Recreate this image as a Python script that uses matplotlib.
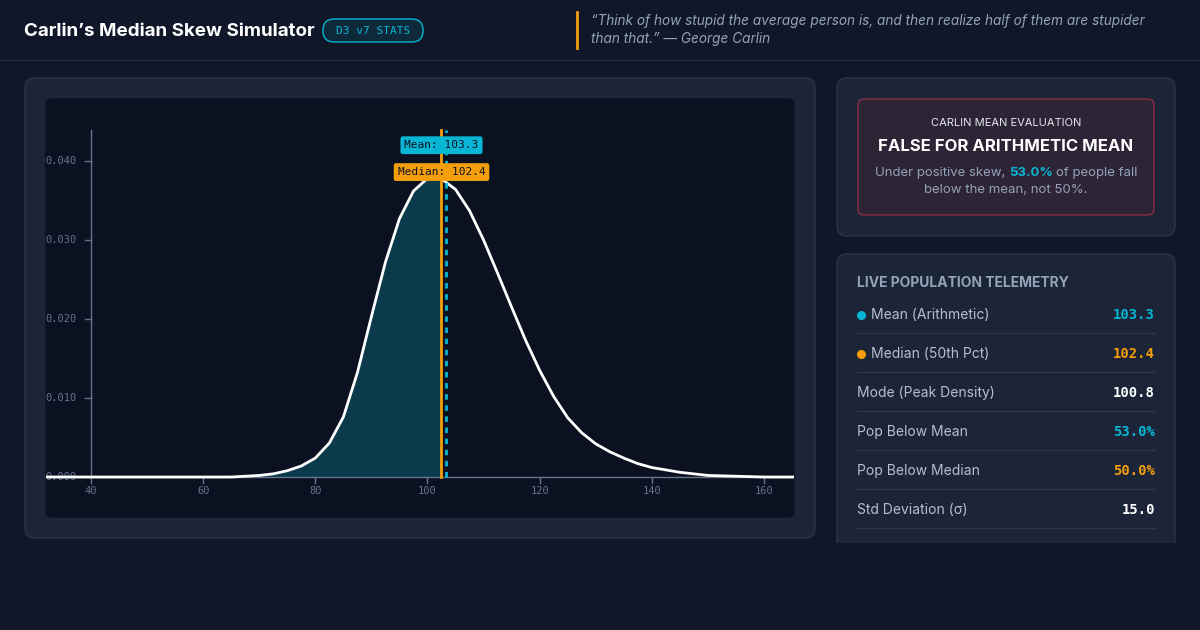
import matplotlib
matplotlib.use("Agg")
import matplotlib.pyplot as plt
from matplotlib.patches import FancyBboxPatch
import numpy as np

# ── data ──────────────────────────────────────────────────────────────────
iq_x = [32, 40, 50, 60, 65, 70, 72.5, 75, 77.5, 80, 82.5, 85, 87.5, 90, 92.5, 95, 97.5,
        100, 101, 102.4, 105, 107.5, 110, 112.5, 115, 117.5, 120, 122.5, 125, 127.5,
        130, 132.5, 135, 137.5, 140, 145, 150, 155, 160, 165.4]
density = [0.0, 0.0, 0.0, 0.0, 0.0, 0.0002, 0.0004, 0.0008, 0.0014, 0.0024, 0.0043,
           0.0076, 0.0132, 0.0203, 0.0272, 0.0327, 0.0362, 0.0378, 0.0380, 0.0378,
           0.0364, 0.0337, 0.0300, 0.0258, 0.0215, 0.0173, 0.0135, 0.0102, 0.0075,
           0.0056, 0.0042, 0.0032, 0.0024, 0.0017, 0.0012, 0.0006, 0.0002, 0.0001,
           0.0, 0.0]
MEAN, MEDIAN, MODE = 103.3, 102.4, 100.8
x_ticks = [40, 60, 80, 100, 120, 140, 160]
y_ticks = [0.0, 0.01, 0.02, 0.03, 0.04]
stat_labels = ["Mean (Arithmetic)", "Median (50th Pct)", "Mode (Peak Density)",
               "Pop Below Mean", "Pop Below Median", "Std Deviation (σ)"]
stat_values = ["103.3", "102.4", "100.8", "53.0%", "50.0%", "15.0"]

BG = "#0f1729"
CARD = "#1b2537"
PLOT = "#0b1120"
CYAN = "#06b6d4"
ORANGE = "#f59e0b"
GRAY = "#94a3b8"
MONO = "DejaVu Sans Mono"
SANS = "Inter"

W, H = 1200, 630
fig = plt.figure(figsize=(12, 6.3), dpi=100, facecolor=BG)

def fy(py):
    return 1 - py / H

def box(x0, y0, x1, y1, fc, ec, r=10, lw=1):
    p = FancyBboxPatch((x0 / W, fy(y1)), (x1 - x0) / W, (y1 - y0) / H,
                       boxstyle=f"round,pad=0,rounding_size={r / W}",
                       transform=fig.transFigure, fc=fc, ec=ec, lw=lw,
                       mutation_aspect=W / H, zorder=0)
    fig.add_artist(p)

def txt(px, py, s, **kw):
    fig.text(px / W, fy(py), s, **kw)

# header
txt(24, 31, "Carlin’s Median Skew Simulator", color="white", fontsize=13.5,
    fontweight="bold", family=SANS, va="center")
box(323, 19, 423, 42, "#0e2a3a", CYAN, r=11)
txt(373, 31, "D3 v7 STATS", color=CYAN, fontsize=8, family=MONO, ha="center", va="center")
fig.add_artist(plt.Line2D([577 / W, 577 / W], [fy(12), fy(48)], color=ORANGE, lw=2))
txt(591, 21, "“Think of how stupid the average person is, and then realize half of them are stupider",
    color=GRAY, fontsize=9.8, style="italic", family=SANS, va="center")
txt(591, 39, "than that.” — George Carlin", color=GRAY, fontsize=9.8, style="italic",
    family=SANS, va="center")
fig.add_artist(plt.Line2D([0, 1], [fy(60), fy(60)], color="#1f2a3c", lw=1))

# left card
box(25, 78, 815, 538, CARD, "#2b3648", r=10)
box(46, 99, 794, 517, PLOT, PLOT, r=6)

ax = fig.add_axes([46 / W, fy(517), (794 - 46) / W, (517 - 99) / H], zorder=5)
ax.set_facecolor("none")
ax.axis("off")
ax.set_xlim(31.98, 165.35)
ax.set_ylim(-0.00506, 0.04785)

xs = np.array(iq_x)
ds = np.array(density)
m = xs <= MEDIAN
ax.fill_between(xs[m], 0, ds[m], color="#0b3a4c", lw=0)
ax.plot(xs, ds, color="white", lw=2, zorder=4)

ax_c = "#64748b"
ax.plot([40, 40], [0, 0.0439], color=ax_c, lw=1)
ax.plot([40, 165.4], [0, 0], color=ax_c, lw=1)
for t in y_ticks:
    ax.plot([39, 40], [t, t], color=ax_c, lw=1)
    ax.text(37.5, t, f"{t:.3f}", color=ax_c, fontsize=7.5, family=MONO, ha="right", va="center")
for t in x_ticks:
    ax.plot([t, t], [0, -0.0007], color=ax_c, lw=1)
    ax.text(t, -0.0011, str(t), color=ax_c, fontsize=7.5, family=MONO, ha="center", va="top")

ax.plot([MEDIAN, MEDIAN], [0, 0.0439], color=ORANGE, lw=2, zorder=5)
ax.plot([MEAN, MEAN], [0, 0.0439], color=CYAN, lw=2, ls=(0, (2, 2)), zorder=5)
ax.text(MEAN - 0.8, 0.0420, "Mean: 103.3", color="#0b1120", fontsize=8, family=MONO,
        ha="center", va="center", zorder=6,
        bbox=dict(boxstyle="round,pad=0.35,rounding_size=0.2", fc=CYAN, ec="none"))
ax.text(MEDIAN + 0.1, 0.0386, "Median: 102.4", color="#0b1120", fontsize=8, family=MONO,
        ha="center", va="center", zorder=6,
        bbox=dict(boxstyle="round,pad=0.35,rounding_size=0.2", fc=ORANGE, ec="none"))

# right top card
box(837, 78, 1175, 236, CARD, "#2b3648", r=10)
box(858, 99, 1154, 215, "#2d2436", "#8b2c44", r=6)
txt(1006, 123, "CARLIN MEAN EVALUATION", color="#e2e8f0", fontsize=8, family=SANS,
    ha="center", va="center")
txt(1006, 146, "FALSE FOR ARITHMETIC MEAN", color="white", fontsize=12, fontweight="bold",
    family=SANS, ha="center", va="center")
txt(1005, 173, "Under positive skew,", color=GRAY, fontsize=9.5, family=SANS,
    ha="right", va="center")
txt(1009, 173, "53.0%", color=CYAN, fontsize=9.5, fontweight="bold", family=SANS,
    ha="left", va="center")
txt(1056, 173, "of people fall", color=GRAY, fontsize=9.5, family=SANS,
    ha="left", va="center")
txt(1006, 190, "below the mean, not 50%.", color=GRAY, fontsize=9.5, family=SANS,
    ha="center", va="center")

# right bottom card (cut off at bottom)
box(837, 254, 1175, 560, CARD, "#2b3648", r=10)
fig.add_artist(plt.Rectangle((836 / W, 0), 342 / W, fy(543), transform=fig.transFigure,
                             fc=BG, ec="none", zorder=1))
txt(857, 283, "LIVE POPULATION TELEMETRY", color=GRAY, fontsize=10, fontweight="bold",
    family=SANS, va="center")
value_colors = [CYAN, ORANGE, "white", CYAN, ORANGE, "white"]
for i, (lab, val, col) in enumerate(zip(stat_labels, stat_values, value_colors)):
    py = 315 + i * 39
    lx = 857
    if i < 2:
        fig.add_artist(plt.Line2D([861 / W], [fy(py)], marker="o", ms=5.5, color=col,
                                  transform=fig.transFigure))
        lx = 871
    txt(lx, py, lab, color="#b4bfcd", fontsize=10, family=SANS, va="center")
    txt(1155, py, val, color=col, fontsize=10, fontweight="bold", family=MONO,
        ha="right", va="center")
    fig.add_artist(plt.Line2D([857 / W, 1155 / W], [fy(py + 18), fy(py + 18)],
                              color="#2b3648", lw=1))

fig.savefig("out.png", dpi=100, facecolor=BG)
